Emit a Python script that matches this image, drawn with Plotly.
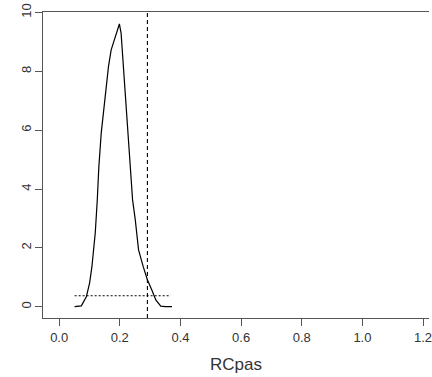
import plotly.graph_objects as go

# Density curve of RCpas
dens_x = [0.051, 0.061, 0.073, 0.0897, 0.1005, 0.108, 0.119, 0.1257, 0.1309, 0.1387,
          0.1495, 0.1626, 0.1715, 0.1986, 0.2042, 0.2117, 0.2206, 0.2281, 0.2346,
          0.2421, 0.251, 0.2618, 0.2772, 0.2912, 0.3056, 0.3187, 0.335, 0.350, 0.372]
dens_y = [0.0, 0.01, 0.03, 0.34, 0.81, 1.36, 2.51, 3.63, 4.76, 5.90,
          7.03, 8.16, 8.73, 9.61, 9.30, 8.16, 7.03, 5.90, 4.76,
          3.63, 2.95, 1.93, 1.36, 0.91, 0.57, 0.23, 0.02, 0.0, 0.0]

vline_x = 0.291
hline_y = 0.374
hline_x = [0.051, 0.368]

x_ticks = [0.0, 0.2, 0.4, 0.6, 0.8, 1.0, 1.2]
x_labels = ["0.0", "0.2", "0.4", "0.6", "0.8", "1.0", "1.2"]
y_ticks = [0, 2, 4, 6, 8, 10]
y_labels = ["0", "2", "4", "6", "8", "10"]

x_range = [-0.0533, 1.2196]
y_range = [-0.384, 10.017]

fig = go.Figure()
fig.add_trace(go.Scatter(x=dens_x, y=dens_y, mode="lines",
                         line=dict(color="black", width=1.2), showlegend=False,
                         hoverinfo="skip"))
fig.add_trace(go.Scatter(x=[vline_x, vline_x], y=y_range, mode="lines",
                         line=dict(color="black", width=1.1, dash="4px,3px"),
                         showlegend=False, hoverinfo="skip"))
fig.add_trace(go.Scatter(x=hline_x, y=[hline_y, hline_y], mode="lines",
                         line=dict(color="black", width=1.1, dash="2px,2px"),
                         showlegend=False, hoverinfo="skip"))

axis_font = dict(family="Liberation Sans, Arial, sans-serif", size=13, color="#333")
fig.update_layout(
    width=432, height=377,
    margin=dict(l=43, r=0, t=12, b=59),
    paper_bgcolor="white", plot_bgcolor="white",
    font=axis_font,
    xaxis=dict(range=x_range, tickvals=x_ticks, ticktext=x_labels,
               showgrid=False, zeroline=False, showline=True, mirror=True,
               linecolor="#555", linewidth=1, ticks="outside", ticklen=7,
               tickcolor="#555", tickfont=axis_font, ticklabeloverflow="allow",
               title=dict(text="RCpas", font=dict(family="Liberation Sans, Arial, sans-serif",
                                                  size=17, color="#333"), standoff=14)),
    yaxis=dict(range=y_range, tickvals=y_ticks, ticktext=y_labels,
               showgrid=False, zeroline=False, showline=True, mirror=False,
               linecolor="#555", linewidth=1, ticks="outside", ticklen=7,
               tickcolor="#555", tickfont=axis_font, tickangle=-90,
               ticklabelstandoff=-1, ticklabeloverflow="allow"),
)

fig.write_html("out.html")
